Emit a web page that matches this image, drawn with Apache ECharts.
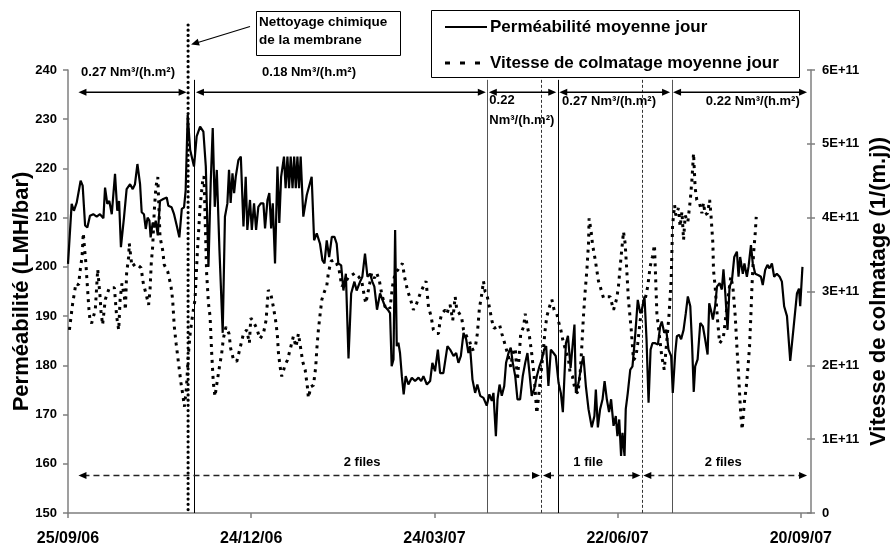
<!DOCTYPE html>
<html><head><meta charset="utf-8">
<script src="https://cdn.jsdelivr.net/npm/echarts/dist/echarts.min.js"></script>
<style>html,body{margin:0;padding:0;background:#fff}#c{width:890px;height:547px}</style>
</head><body><div id="c"></div>
<script>
// ---------- data ----------
// x axis in days since 25/09/06
const xTickLabels = ['25/09/06', '24/12/06', '24/03/07', '22/06/07', '20/09/07'];
const seriesNames = ['Perméabilité moyenne jour', 'Vitesse de colmatage moyenne jour'];
const permDays = [0,1.8,2.9,4.3,6.2,7.2,8.4,9.5,10.8,12.4,14.1,15.7,17.4,18.2,19.3,20.3,21.5,23.1,24.2,25.1,26.0,27.5,28.8,30.5,31.8,32.9,34.1,35.4,36.2,37.3,38.2,39.1,40.0,40.6,41.6,42.4,43.1,44.1,45.2,46.8,48.5,49.3,50.9,52.1,53.4,54.7,55.9,57.0,57.8,58.8,
60.0,61.9,63.2,64.9,66.5,67.7,69.0,70.1,71.1,72.1,73.1,74.4,76.0,77.1,78.3,79.1,79.9,80.8,81.6,82.4,83.7,84.9,86.2,87.3,88.1,89.4,90.3,91.4,92.4,93.5,94.7,96.0,96.8,98.0,98.9,99.8,100.6,101.7,102.9,103.8,104.7,
106.1,106.9,107.8,108.6,109.4,110.3,111.1,111.9,112.7,113.5,114.3,115.6,117.3,119.7,120.9,122.2,123.8,125.0,126.0,127.1,128.3,129.6,130.9,132.0,132.8,134.2,135.3,136.5,137.8,139.1,140.7,141.8,143.5,144.6,145.9,147.1,148.4,149.5,150.5,151.8,153.3,154.5,155.8,157.1,158.2,159.0,159.9,160.7,161.5,162.3,163.1,164.0,164.9,165.9,167.2,168.9,170.5,172.2,173.5,174.6,176.3,177.9,179.0,180.3,181.7,182.8,184.4,
186.4,187.7,189.4,190.7,191.8,193.0,194.3,195.6,196.7,197.5,198.7,200.0,201.1,202.5,204.1,205.7,207.0,208.2,209.0,210.2,211.0,212.0,213.1,214.3,215.2,216.4,217.5,218.5,219.7,220.8,222.1,223.4,224.6,225.7,226.7,227.8,229.0,230.3,231.6,232.8,233.9,234.9,236.0,237.2,238.5,239.6,241.0,242.1,243.1,244.6,245.6,246.9,247.8,248.8,249.5,
250.8,252.1,253.2,254.4,255.7,257.3,258.6,259.3,260.3,261.4,262.6,263.6,264.7,265.8,266.8,268.0,269.1,269.9,270.8,271.7,272.4,273.4,274.0,275.0,276.2,277.3,278.6,279.9,281.1,281.9,283.2,284.2,285.2,286.2,287.1,288.5,289.8,290.9,291.7,292.9,293.9,295.0,296.3,297.1,298.3,299.1,300.2,301.2,302.4,303.5,304.5,305.7,306.6,307.4,
308.1,309.3,310.6,311.9,313.0,314.2,315.0,315.8,316.8,317.9,318.8,320.1,321.2,322.0,322.9,324.0,325.0,326.1,327.3,328.6,329.4,330.2,331.5,332.3,333.5,334.3,335.5,336.4,337.6,339.2,340.4,341.3,342.5,343.6,344.6,345.8,346.9,348.2,349.6,350.7,351.8,353.2,354.8,356.5,358.1,359.1,359.7,360.8];
const permValues = [200.6,212.8,211.4,213.1,217.5,216.5,208.4,208,210.4,210.7,210.2,210.7,209.9,216.1,212.8,213.4,210.7,218.9,211.4,213.4,204,210,215.8,216.8,215.8,216.8,220.9,216.8,211.1,210.7,207.7,210,209.4,206,209,208,209.4,206.4,213.4,213.8,214.1,212.4,212.1,210.7,208.4,206,211.8,212.1,215.5,230.9,
223.8,220.4,226.5,228.5,227.5,220.4,200,217,228.2,212.2,219.7,203.4,186.6,210.2,212.9,219.7,213,219,215,218.3,221.7,222.4,208.2,218.3,207.5,213.6,207.5,212.9,207.5,212.2,212.9,212.9,207.8,213.6,215,207.8,212.9,200.7,220.4,208.9,218.3,
222.4,216,222.4,216,222.4,216,222.4,216,222.4,216,222.4,210.2,214.6,218.3,205.4,206.8,204.7,201.3,200.7,205.4,202,206.1,206.1,204.7,200.7,200.3,195.2,198.6,181.4,194.6,197,195.2,197,198,202.7,198,198.6,197,196,191.3,194.6,193.3,191.9,191.3,190.6,179.8,181.2,207.5,183.9,184.6,182.5,177.8,174.1,177.8,176.1,177.5,176.8,177.5,176.8,177.8,176.1,176.8,180.5,178.8,183.2,178.4,178.4,
183.9,183.2,181.9,182.5,180.5,181.9,186.6,185.3,182.5,183.9,177.1,174.4,176.1,173.8,173.4,171.8,174.1,172.8,174.4,165.6,173.1,176.1,173.8,175.8,180.5,182.5,183.6,180.5,177.8,173.1,173.1,177.8,180.5,182.5,178.4,173.8,175.1,177.8,179.8,181.2,183.2,183.9,175.8,183.2,182.5,181.9,176.4,174.4,170.5,184.5,186,179.5,179.8,188.3,174.4,
176.4,179.8,181.9,175.8,171.1,167.4,169.7,175.1,167.4,171.1,173.1,176.8,173.1,170.5,173.1,167.7,169.7,165.6,169,161.6,166.3,161.6,171.1,174.4,179.1,179.8,185.9,193.3,190.6,191.3,194,185.3,172.4,183.2,184.5,184.5,184.2,187.9,188.9,186.6,187.2,183.2,181.9,174.4,182.5,185.9,186.2,185.3,187.2,190.6,194,192,184,174.6,
179.8,181.2,188.6,187.9,185.3,182.2,192.6,191.3,189.3,192,196,196.7,195.4,199.5,194.6,187.2,196,197,202,203.1,198,202,198.6,200.7,198,200,204.4,200.7,198.6,198.3,198,196.3,199.4,200.4,199.7,200.7,198,198.6,198,197,192,190,180.9,187.9,194.6,195.6,192,200];

const vitDays = [0.7,1.5,2.3,3.9,5.2,5.9,6.9,7.5,8.2,8.8,9.2,9.7,10.2,10.8,11.6,13.4,14.6,15.1,15.7,16.2,17.0,18.3,20.3,22.8,23.9,24.9,25.6,26.5,27.7,28.2,28.8,29.8,30.1,31.4,33.4,35.9,37.0,38.3,39.6,40.3,40.9,41.6,42.4,43.2,44.1,45.2,46.5,47.3,49.0,50.6,51.4,52.2,53.1,53.9,54.7,55.5,56.3,57.2,58.2,59.0,
60.0,61.3,62.4,63.6,64.9,66.2,66.8,68.1,69.0,69.8,70.6,71.4,72.2,73.4,74.4,75.5,76.3,77.6,79.1,79.9,81.2,82.9,84.5,86.2,87.8,89.1,89.8,91.1,92.7,94.3,96.0,97.3,98.4,99.6,100.9,102.2,102.9,103.4,104.2,105.0,106.6,107.8,109.1,110.7,112.0,113.2,114.3,115.3,116.5,117.6,118.1,119.3,120.6,121.7,122.2,123.0,
123.8,124.7,126.0,127.1,127.9,129.2,130.9,132.0,133.2,134.5,136.1,137.8,139.4,141.0,142.8,144.3,145.6,146.3,147.6,149.2,150.5,151.7,153.0,154.1,155.8,157.1,158.2,159.4,160.7,162.0,163.1,164.3,165.3,166.9,168.1,169.7,171.3,173.0,174.6,175.9,177.1,178.4,179.5,180.8,182.0,182.8,183.6,185.3,
186.1,187.7,189.0,190.2,191.0,192.3,193.4,194.3,195.9,197.2,198.4,200.0,201.1,202.1,203.3,204.1,204.9,205.7,207.0,208.2,209.3,210.6,212.0,213.1,213.9,215.2,216.4,217.5,218.5,219.7,220.8,222.4,223.8,224.6,225.7,226.7,227.8,229.0,230.3,231.9,233.2,234.4,235.2,236.5,237.7,238.8,240.1,241.0,242.1,243.1,244.2,245.9,
246.7,247.8,249.1,250.5,251.6,252.4,253.2,254.1,254.9,255.7,256.0,257.0,257.7,259.0,260.6,261.4,263.1,264.7,266.3,268.0,269.6,270.4,271.7,272.9,273.7,274.5,275.3,276.7,277.8,279.0,279.9,281.1,282.2,283.5,284.8,286.0,287.1,288.1,289.3,290.4,291.7,292.9,294.2,295.3,296.3,297.0,298.0,298.6,299.9,300.7,301.6,302.4,303.2,304.5,305.7,306.5,307.3,
308.1,308.9,310.2,311.4,312.2,313.0,314.2,315.2,315.8,316.8,317.1,317.9,319.1,320.1,321.2,322.0,323.3,324.5,325.6,326.6,327.8,328.6,329.4,330.2,330.6,331.2,332.2,333.2,333.8,334.8,335.5,336.0,336.8,337.6,338.1];
// in units of 1E+11 1/(m.j)
const vitValuesE11 = [2.48,2.66,2.84,3.11,3.09,3.27,3.47,3.79,3.56,3.38,3.20,3.00,2.79,2.61,2.57,2.75,3.30,3.14,2.95,2.73,2.55,2.89,3.05,3.05,2.66,2.48,2.89,3.11,2.93,2.75,3.25,3.47,3.65,3.34,3.38,3.32,3.11,2.97,2.82,3.02,3.38,3.61,4.10,4.42,4.55,3.74,3.56,3.36,3.27,3.07,2.89,2.53,2.30,2.12,1.94,1.76,1.62,1.44,1.70,2.10,
2.43,2.70,2.89,3.56,4.15,4.51,4.56,3.25,2.84,2.66,2.16,1.76,1.58,1.80,1.98,2.16,2.36,2.52,2.43,2.23,2.09,2.05,2.23,2.43,2.48,2.30,2.64,2.59,2.50,2.36,2.43,2.61,3.02,2.97,2.79,2.57,2.39,2.16,1.98,1.85,2.00,2.07,2.21,2.39,2.25,2.43,2.23,2.05,1.94,1.71,1.56,1.71,1.73,1.98,2.21,2.48,
2.68,2.89,3.00,3.07,3.25,3.41,3.43,3.38,3.29,3.07,3.11,3.20,3.22,3.25,3.20,3.14,2.93,2.84,3.02,3.25,3.18,3.25,3.14,2.97,2.79,2.82,2.77,3.07,3.25,3.29,3.34,3.38,3.20,3.00,2.91,2.75,2.84,2.97,3.07,3.14,2.79,2.66,2.48,2.43,2.43,2.61,2.70,2.75,
2.70,2.82,2.61,2.93,2.75,2.70,2.64,2.48,2.39,2.34,2.21,2.23,2.43,2.77,2.97,3.14,3.00,2.97,2.79,2.61,2.50,2.52,2.55,2.43,2.36,2.23,2.12,1.98,2.16,2.23,1.80,2.43,2.52,2.70,2.52,2.39,2.16,1.85,1.35,1.76,2.12,2.48,2.66,2.79,2.89,2.75,2.70,2.59,2.48,2.34,2.23,2.07,
1.89,1.85,1.67,1.62,1.89,2.25,2.66,3.02,3.29,3.65,3.99,3.81,3.63,3.43,3.14,3.07,2.91,2.93,2.93,2.75,2.91,3.07,3.47,3.81,3.65,3.29,2.89,2.48,2.07,2.12,2.30,2.61,2.79,2.89,3.07,3.34,3.47,3.63,2.70,2.43,2.12,1.94,2.34,2.70,3.16,3.90,4.17,4.03,4.13,3.88,4.08,3.70,4.03,3.94,4.24,4.51,4.87,
4.40,4.24,4.20,4.06,4.20,4.04,4.06,4.24,4.06,3.65,3.29,3.07,2.61,2.30,2.34,2.39,2.70,2.97,3.20,3.07,2.66,2.25,1.89,1.48,1.30,1.13,1.48,1.71,1.89,2.25,2.70,3.07,3.52,3.79,4.01];

// events (days)
const cleaningDay = 59;
const aerationBounds = [62.1, 206, 240.6, 296.5];
const fileBounds = [232.6, 281.9];
const aerationSpans = [[4.4, 59], [62.1, 206], [206, 240.6], [240.6, 296.5], [296.5, 363.8]];
const aerationLabels = ['0.27 Nm³/(h.m²)', '0.18 Nm³/(h.m²)', '0.22\nNm³/(h.m²)', '0.27 Nm³/(h.m²)', '0.22 Nm³/(h.m²)'];
const fileSpans = [[4.4, 232.6], [232.6, 281.9], [281.9, 363.8]];
const fileLabels = ['2 files', '1 file', '2 files'];

// ---------- chart ----------
const FF = '"Liberation Sans", Arial, sans-serif';
const chart = echarts.init(document.getElementById('c'), null, {renderer: 'canvas'});
const axisGray = '#7f7f7f';
const permData = permDays.map((d, i) => [d, permValues[i]]);
const vitData = vitDays.map((d, i) => [d, vitValuesE11[i] * 1e11]);

const option = {
  animation: false,
  backgroundColor: '#fff',
  grid: {left: 68, right: 79, top: 70, bottom: 34, containLabel: false, outerBoundsMode: 'none'},
  xAxis: {
    type: 'value', min: 0, max: 365, interval: 90,
    axisLine: {lineStyle: {color: axisGray, width: 1.5}},
    axisTick: {length: 5, lineStyle: {color: axisGray, width: 1.5}},
    splitLine: {show: false},
    axisLabel: {
      margin: 18, fontSize: 16, fontWeight: 'bold', color: '#000', fontFamily: FF,
      showMaxLabel: false,
      formatter: v => (v % 90 === 0 && xTickLabels[v / 90]) ? xTickLabels[v / 90] : ''
    }
  },
  yAxis: [
    {
      type: 'value', position: 'left', min: 150, max: 240, interval: 10,
      name: 'Perméabilité (LMH/bar)', nameLocation: 'middle', nameGap: 35, nameMoveOverlap: false,
      nameTextStyle: {fontSize: 22, fontWeight: 'bold', color: '#000', fontFamily: FF},
      axisLine: {show: true, lineStyle: {color: axisGray, width: 1.5}},
      axisTick: {show: true, length: 5, lineStyle: {color: axisGray, width: 1.5}},
      splitLine: {show: false},
      axisLabel: {margin: 11, fontSize: 13, fontWeight: 'bold', color: '#000', fontFamily: FF}
    },
    {
      type: 'value', position: 'right', min: 0, max: 6e11, interval: 1e11,
      name: 'Vitesse de colmatage (1/(m.j))', nameLocation: 'middle', nameGap: 57, nameMoveOverlap: false,
      nameTextStyle: {fontSize: 22, fontWeight: 'bold', color: '#000', fontFamily: FF},
      axisLine: {show: true, lineStyle: {color: axisGray, width: 1.5}},
      axisTick: {show: true, length: 4, lineStyle: {color: axisGray, width: 1.5}},
      splitLine: {show: false},
      axisLabel: {margin: 11, fontSize: 13, fontWeight: 'bold', color: '#000', fontFamily: FF,
        formatter: v => v === 0 ? '0' : Math.round(v / 1e11) + 'E+11'}
    },
    {
      type: 'value', position: 'right', min: 0, max: 6e11, interval: 1e11,
      axisLine: {show: false}, axisLabel: {show: false}, splitLine: {show: false},
      axisTick: {show: true, inside: true, length: 4, lineStyle: {color: axisGray, width: 1.5}}
    }
  ],
  series: [
    {
      name: seriesNames[0], type: 'line', yAxisIndex: 0,
      data: permData, symbol: 'none', showSymbol: false, z: 3,
      lineStyle: {color: '#000', width: 2.2}, itemStyle: {color: '#000'}
    },
    {
      name: seriesNames[1], type: 'line', yAxisIndex: 1,
      data: vitData, symbol: 'none', showSymbol: false, z: 2,
      lineStyle: {color: '#000', width: 3, type: [3, 5]}, itemStyle: {color: '#000'}
    }
  ]
};
chart.setOption(option);

// ---------- annotations placed through the axes ----------
const px = d => chart.convertToPixel({xAxisIndex: 0}, d);
const py = v => chart.convertToPixel({yAxisIndex: 0}, v);
const g = [];
const yLineTop = py(238), yBottom = py(150);
const txt = (x, y, text, align, extra, z) => ({
  type: 'text', x, y, z: z || 6,
  style: Object.assign({text, fontSize: 13, fontWeight: 'bold', fontFamily: FF, fill: '#000',
    align: align || 'center', verticalAlign: 'middle'}, extra || {})
});
function head(x, y, dx, dy) { // tip at x,y pointing along (dx,dy)
  const L = 8, W = 3.5, n = Math.hypot(dx, dy), ux = dx / n, uy = dy / n;
  const bx = x - ux * L, by = y - uy * L;
  return {type: 'polygon', z: 6, shape: {points: [[x, y], [bx - uy * W, by + ux * W], [bx + uy * W, by - ux * W]]},
    style: {fill: '#000'}};
}
function hArrow(d1, d2, y, dashed) {
  const x1 = px(d1) + 1.5, x2 = px(d2) - 1.5;
  g.push({type: 'line', z: 5, shape: {x1: x1 + 5, y1: y, x2: x2 - 5, y2: y},
    style: {stroke: dashed ? '#222' : '#000', lineWidth: 1.5, lineDash: dashed ? [6, 4] : null}});
  g.push(head(x1, y, -1, 0));
  g.push(head(x2, y, 1, 0));
}
// vertical regime lines
aerationBounds.forEach((d, i) => {
  const x = Math.round(px(d)) + 0.5;
  g.push({type: 'line', z: 1, shape: {x1: x, y1: yLineTop, x2: x, y2: yBottom},
    style: {stroke: i === 0 || i === 2 ? '#000' : '#555', lineWidth: 1}});
});
fileBounds.forEach(d => {
  const x = Math.round(px(d)) + 0.5;
  g.push({type: 'line', z: 1, shape: {x1: x, y1: yLineTop, x2: x, y2: yBottom},
    style: {stroke: '#333', lineWidth: 1, lineDash: [3, 2]}});
});
// cleaning line (dotted)
const xc = px(cleaningDay);
g.push({type: 'line', z: 4, shape: {x1: xc, y1: 25, x2: xc, y2: yBottom},
  style: {stroke: '#000', lineWidth: 3.2, lineDash: [0.01, 5.2], lineCap: 'round'}});
// aeration arrows + labels
const yTopArrow = py(235.5);
aerationSpans.forEach(s => hArrow(s[0], s[1], yTopArrow, false));
g.push(txt(px(29.5), 72, aerationLabels[0]));
g.push(txt(px(118.4), 72, aerationLabels[1]));
g.push(txt(px(206) + 2, 110, aerationLabels[2], 'left', {lineHeight: 20}));
g.push(txt(px(265.8), 101, aerationLabels[3]));
g.push(txt(px(336.4), 101, aerationLabels[4]));
// file arrows + labels
const yBotArrow = py(157.6);
fileSpans.forEach(s => hArrow(s[0], s[1], yBotArrow, true));
g.push(txt(px(144.5), 462, fileLabels[0]));
g.push(txt(px(255.5), 462, fileLabels[1]));
g.push(txt(px(321.9), 462, fileLabels[2]));
// cleaning annotation box
g.push({type: 'rect', z: 6, shape: {x: 256.5, y: 11.5, width: 144, height: 44},
  style: {fill: '#fff', stroke: '#000', lineWidth: 1}});
g.push(txt(259, 22, 'Nettoyage chimique', 'left', {fontSize: 13.5}, 7));
g.push(txt(259, 40, 'de la membrane', 'left', {fontSize: 13.5}, 7));
const ax0 = 250, ay0 = 26.5, ax1 = xc + 3, ay1 = 44.5;
g.push({type: 'line', z: 6, shape: {x1: ax0, y1: ay0, x2: ax1 + 6, y2: ay1 - 1.8},
  style: {stroke: '#000', lineWidth: 1.2}});
g.push(head(ax1, ay1, ax1 - ax0, ay1 - ay0));
// legend box
g.push({type: 'rect', z: 7, shape: {x: 431.5, y: 10.5, width: 368, height: 67},
  style: {fill: '#fff', stroke: '#000', lineWidth: 1}});
g.push({type: 'line', z: 8, shape: {x1: 445, y1: 27, x2: 487, y2: 27}, style: {stroke: '#000', lineWidth: 2.2}});
g.push({type: 'line', z: 8, shape: {x1: 445, y1: 63, x2: 484, y2: 63}, style: {stroke: '#000', lineWidth: 3, lineDash: [5, 10]}});
g.push(txt(490, 27, seriesNames[0], 'left', {fontSize: 17}, 9));
g.push(txt(490, 63, seriesNames[1], 'left', {fontSize: 17}, 9));

chart.setOption({graphic: g});
</script>
</body></html>
